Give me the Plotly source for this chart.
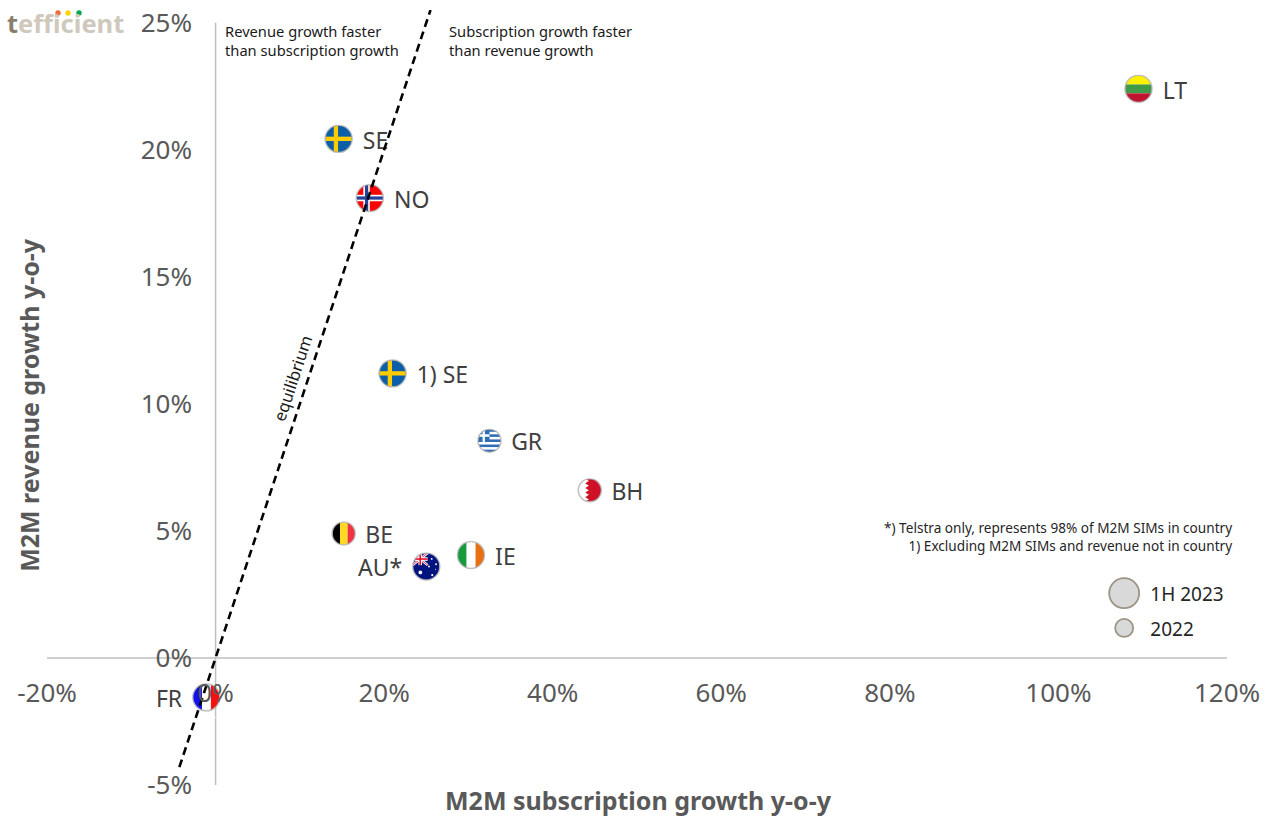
import base64
import plotly.graph_objects as go

# ---------- data ----------
countries = ["SE", "NO", "1) SE", "GR", "BH", "BE", "AU*", "IE", "LT", "FR"]
flag_keys = ["SE", "NO", "SE", "GR", "BH", "BE", "AU", "IE", "LT", "FR"]
sub_growth = [14.6, 18.3, 21.0, 32.5, 44.4, 15.2, 25.0, 30.3, 109.5, -1.1]
rev_growth = [20.43, 18.1, 11.2, 8.55, 6.6, 4.9, 3.6, 4.05, 22.4, -1.55]
diameters = [27, 27, 27, 23, 23, 23, 27, 27, 27, 27]
label_side = ["middle right"] * 6 + ["middle left"] + ["middle right"] * 2 + ["middle left"]

equilibrium_x = [-4.3, 25.5]
equilibrium_y = [-4.3, 25.5]

legend_labels = ["1H 2023", "2022"]
legend_x = [107.8, 107.8]
legend_y = [2.55, 1.18]
legend_label_x = [110.9, 110.9]
legend_sizes = [30, 18]

x_ticks = [-20, 0, 20, 40, 60, 80, 100, 120]
y_ticks = [-5, 0, 5, 10, 15, 20, 25]

# ---------- layout constants ----------
W, H = 1269, 819
PL, PR, PT, PB = 47, 42, 10.3, 34
X_RANGE = [-20, 120]
Y_RANGE = [-5, 25.5]
plot_w = W - PL - PR
plot_h = H - PT - PB
px_x = plot_w / (X_RANGE[1] - X_RANGE[0])
px_y = plot_h / (Y_RANGE[1] - Y_RANGE[0])
FONT = "Noto Sans, Tahoma, sans-serif"
GREY = "#595959"
LABEL_DROP = 4 / px_y        # country labels sit a little under the flag centre
LEGEND_DROP = 3 / px_y


def pxx(p):
    return (p - PL) / plot_w


def pxy(p):
    return (H - PB - p) / plot_h


# ---------- flags ----------
def rects(*items):
    return "".join(
        f'<rect x="{x}" y="{y}" width="{w}" height="{h}" fill="{c}"/>' for x, y, w, h, c in items
    )


def gr_body():
    s = rects((0, 0, 100, 100, "#ffffff"))
    for i in range(0, 9, 2):
        s += rects((0, i * 100 / 9, 100, 100 / 9, "#2f6db5"))
    s += rects((0, 0, 50, 55.5, "#2f6db5"), (20, 0, 10, 55.5, "#ffffff"), (0, 22, 50, 11, "#ffffff"))
    return s


def bh_body():
    s = rects((0, 0, 100, 100, "#ffffff"))
    pts = "100,0 30,0 "
    for i in range(5):
        pts += f"46,{10 + i * 20} 30,{20 + i * 20} "
    pts += "100,100"
    return s + f'<polygon points="{pts}" fill="#ce1126"/>'


def au_body():
    s = rects((0, 0, 100, 100, "#00147f"))
    s += '<line x1="0" y1="0" x2="55" y2="45" stroke="#fff" stroke-width="9"/>'
    s += '<line x1="55" y1="0" x2="0" y2="45" stroke="#fff" stroke-width="9"/>'
    s += '<line x1="0" y1="0" x2="55" y2="45" stroke="#e8112d" stroke-width="3"/>'
    s += '<line x1="55" y1="0" x2="0" y2="45" stroke="#e8112d" stroke-width="3"/>'
    s += rects((21, 0, 13, 45, "#fff"), (0, 16, 55, 13, "#fff"), (24.5, 0, 6, 45, "#e8112d"), (0, 19.5, 55, 6, "#e8112d"))
    for cx, cy, r in [(28, 72, 7), (70, 22, 3.5), (86, 42, 3.5), (60, 50, 3.5), (72, 82, 4), (84, 60, 2)]:
        s += f'<circle cx="{cx}" cy="{cy}" r="{r}" fill="#fff"/>'
    return s


FLAGS = {
    "SE": rects((0, 0, 100, 100, "#0b5ea8"), (32, 0, 16, 100, "#fecc00"), (0, 42, 100, 16, "#fecc00")),
    "NO": rects((0, 0, 100, 100, "#ff0000"), (26, 0, 24, 100, "#ffffff"), (0, 38, 100, 24, "#ffffff"),
                (32, 0, 12, 100, "#27409a"), (0, 44, 100, 12, "#27409a")),
    "GR": gr_body(),
    "BH": bh_body(),
    "BE": rects((0, 0, 34, 100, "#000000"), (34, 0, 33, 100, "#fdda24"), (67, 0, 33, 100, "#ef3340")),
    "AU": au_body(),
    "IE": rects((0, 0, 34, 100, "#169b3c"), (34, 0, 33, 100, "#ffffff"), (67, 0, 33, 100, "#ea6f10")),
    "LT": rects((0, 0, 100, 34, "#fff200"), (0, 34, 100, 33, "#3f9b46"), (0, 67, 100, 33, "#c1122f")),
    "FR": rects((0, 0, 34, 100, "#1010f0"), (34, 0, 33, 100, "#ffffff"), (67, 0, 33, 100, "#f51010")),
}


def flag_uri(key):
    svg = (
        '<svg xmlns="http://www.w3.org/2000/svg" width="120" height="120" viewBox="0 0 100 100">'
        '<defs><clipPath id="c"><circle cx="50" cy="50" r="49"/></clipPath></defs>'
        f'<g clip-path="url(#c)">{FLAGS[key]}</g></svg>'
    )
    return "data:image/svg+xml;base64," + base64.b64encode(svg.encode()).decode()


images = [
    dict(
        source=flag_uri(k), xref="x", yref="y", x=x, y=y,
        sizex=d / px_x, sizey=d / px_y, sizing="stretch",
        xanchor="center", yanchor="middle", layer="below",
    )
    for k, x, y, d in zip(flag_keys, sub_growth, rev_growth, diameters)
]

# ---------- figure ----------
fig = go.Figure()

# rings round the flags
fig.add_trace(go.Scatter(
    x=sub_growth, y=rev_growth, mode="markers",
    marker=dict(size=diameters, color="rgba(0,0,0,0)", line=dict(color="#a8a8a8", width=1.5)),
    cliponaxis=False, showlegend=False, hoverinfo="skip",
))
# country labels: invisible wider markers set the gap between flag and text
fig.add_trace(go.Scatter(
    x=sub_growth, y=[v - LABEL_DROP for v in rev_growth], mode="markers+text",
    text=countries, textposition=label_side,
    textfont=dict(family=FONT, size=23, color="#404040"),
    marker=dict(size=[d + 10 for d in diameters], color="rgba(0,0,0,0)"),
    cliponaxis=False, showlegend=False, hoverinfo="skip",
))
# size legend
fig.add_trace(go.Scatter(
    x=legend_x, y=legend_y, mode="markers",
    marker=dict(size=legend_sizes, color="#d9d9d9", opacity=1, line=dict(color="#9c9484", width=1.8)),
    cliponaxis=False, showlegend=False, hoverinfo="skip",
))
fig.add_trace(go.Scatter(
    x=legend_label_x, y=[v - LEGEND_DROP for v in legend_y], mode="text",
    text=legend_labels, textposition="middle right",
    textfont=dict(family=FONT, size=19, color="#262626"),
    cliponaxis=False, showlegend=False, hoverinfo="skip",
))
fig.add_trace(go.Scatter(
    x=equilibrium_x, y=equilibrium_y, mode="lines",
    line=dict(color="#000000", width=2.6, dash="8px,5px"),
    cliponaxis=False, showlegend=False, hoverinfo="skip",
))

annotations = [
    dict(text="M2M subscription growth y-o-y", xref="paper", yref="paper", x=pxx(638), y=pxy(819),
         xanchor="center", yanchor="bottom", showarrow=False,
         font=dict(family=FONT, size=25, color=GREY, weight="bold")),
    dict(text="M2M revenue growth y-o-y", xref="paper", yref="paper", x=pxx(29), y=pxy(405),
         xanchor="center", yanchor="middle", showarrow=False, textangle=-90,
         font=dict(family=FONT, size=25, color=GREY, weight="bold")),
    dict(text="Revenue growth faster<br>than subscription growth", xref="paper", yref="paper",
         x=pxx(223), y=pxy(41), xanchor="left", yanchor="middle", align="left",
         showarrow=False, font=dict(family=FONT, size=14.7, color="#1a1a1a")),
    dict(text="Subscription growth faster<br>than revenue growth", xref="paper", yref="paper",
         x=pxx(447), y=pxy(41), xanchor="left", yanchor="middle", align="left",
         showarrow=False, font=dict(family=FONT, size=14.7, color="#1a1a1a")),
    dict(text="equilibrium", xref="x", yref="y", x=9.1, y=11.0, textangle=-71.7, showarrow=False,
         xanchor="center", yanchor="middle",
         font=dict(family=FONT, size=16.5, color="#1a1a1a")),
    dict(text="*) Telstra only, represents 98% of M2M SIMs in country<br>1) Excluding M2M SIMs and revenue not in country",
         xref="paper", yref="paper", x=pxx(1234), y=pxy(537),
         xanchor="right", yanchor="middle", align="right", showarrow=False,
         font=dict(family=FONT, size=13.6, color="#262626")),
    dict(text='<span style="color:#8a7f6e">t</span>efficient', xref="paper", yref="paper",
         x=pxx(5), y=pxy(23), xanchor="left", yanchor="middle", showarrow=False,
         font=dict(family=FONT, size=25.5, color="#cfc8bc", weight="bold")),
]

shapes = [
    dict(type="line", xref="x", yref="paper", x0=0, x1=0, y0=0, y1=pxy(23), layer="below",
         line=dict(color="#bfbfbf", width=1.5)),
    dict(type="line", xref="paper", yref="y", x0=0, x1=1, y0=0, y1=0, layer="below",
         line=dict(color="#bfbfbf", width=1.5)),
]
for cx, col in [(58, "#f26a36"), (68, "#ffd500"), (79, "#00a651")]:
    shapes.append(dict(type="circle", xref="paper", yref="paper",
                       x0=pxx(cx - 2.7), x1=pxx(cx + 2.7), y0=pxy(16), y1=pxy(10.6),
                       fillcolor=col, line=dict(width=0), layer="above"))

fig.update_layout(
    width=W, height=H, margin=dict(l=PL, r=PR, t=PT, b=PB, autoexpand=False),
    paper_bgcolor="#ffffff", plot_bgcolor="#ffffff", showlegend=False,
    images=images, annotations=annotations, shapes=shapes,
    xaxis=dict(range=X_RANGE, tickmode="array", tickvals=x_ticks, ticktext=[f"{v}%" for v in x_ticks],
               showgrid=False, zeroline=False, showline=False, ticks="", automargin=False,
               anchor="free", position=pxy(675),
               tickfont=dict(family=FONT, size=26, color=GREY)),
    yaxis=dict(range=Y_RANGE, tickmode="array", tickvals=y_ticks, ticktext=[f"{v}%" for v in y_ticks],
               showgrid=False, zeroline=False, showline=False, ticks="", automargin=False,
               anchor="free", position=pxx(192),
               tickfont=dict(family=FONT, size=26, color=GREY)),
)

fig.write_html(
    "out.html",
    config={"displayModeBar": False},
    post_script="document.body.style.margin='0';document.body.style.overflow='hidden';",
)
